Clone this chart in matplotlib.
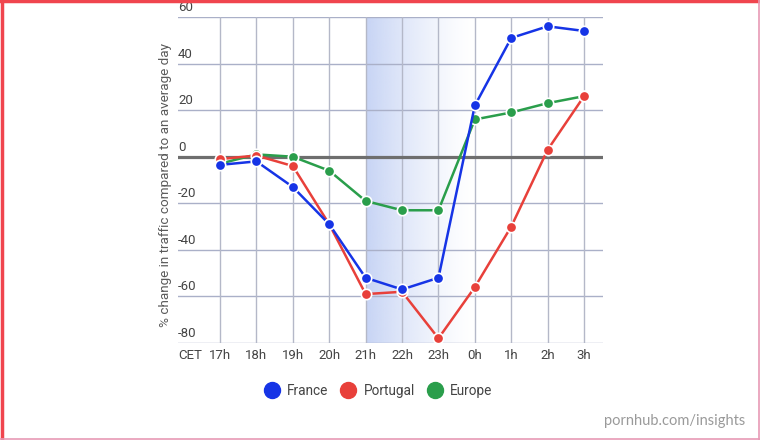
import numpy as np
import matplotlib
matplotlib.use("Agg")
import matplotlib.pyplot as plt
from matplotlib.lines import Line2D
import matplotlib.transforms as mtransforms

hours = ["17h", "18h", "19h", "20h", "21h", "22h", "23h", "0h", "1h", "2h", "3h"]
france = [-3.5, -2, -13, -29, -52, -57, -52, 22, 51, 56, 54]
portugal = [-1, 0.5, -4, -29, -59, -58, -78, -56, -30, 3, 26]
europe = [-3, 1, 0, -6, -19, -23, -23, 16, 19, 23, 26]
yticks = [-80, -60, -40, -20, 0, 20, 40, 60]
series_names = ["France", "Portugal", "Europe"]
colors = ["#1634e6", "#e8403a", "#2a9e4b"]

plt.rcParams['font.family'] = ['Roboto', 'DejaVu Sans']

fig = plt.figure(figsize=(7.6, 4.4), dpi=100)
W, H = 760, 440
ax = fig.add_axes([178 / W, 1 - 343 / H, (603 - 178) / W, (343 - 17) / H])

x = np.arange(len(hours))
ax.set_xlim(-1.154, 10.52)
ax.set_ylim(-80, 60)

# shaded gradient 21h -> 0h
n = 256
grad = np.zeros((1, n, 4))
base = matplotlib.colors.to_rgb("#c3d1f4")
grad[..., 0] = base[0]
grad[..., 1] = base[1]
grad[..., 2] = base[2]
grad[..., 3] = np.linspace(0.95, 0.0, n) ** 1.4
ax.imshow(grad, extent=[4, 7, -80, 60], aspect='auto', zorder=0, interpolation='bilinear')

# gridlines
for yv in yticks:
    if yv == 0:
        continue
    ax.axhline(yv, color="#aab0c8", lw=1.0, zorder=1)
for xi in x:
    ax.axvline(xi, color="#b4b8c8", lw=1.0, zorder=1)
ax.axhline(0, color="#6e6e6e", lw=2.3, zorder=2)

order = [(series_names[2], europe, colors[2]), (series_names[1], portugal, colors[1]), (series_names[0], france, colors[0])]
for name, vals, c in order:
    ax.plot(x, vals, color=c, lw=1.8, marker='o', markersize=7.5, markerfacecolor=c,
            markeredgecolor='white', markeredgewidth=1.2, zorder=4, solid_capstyle='round')

for s in ax.spines.values():
    s.set_visible(False)
ax.set_xticks([])
ax.set_yticks([])

# y tick labels above gridlines
trans = mtransforms.blended_transform_factory(ax.transAxes, ax.transData)
for yv in yticks:
    ax.text(0.0, yv + 1.3, f"{yv}", transform=trans, ha='left', va='bottom',
            fontsize=9.5, color="#444444")

# x labels
for xi, lab in zip(x, hours):
    ax.text(xi, -82.5, lab, ha='center', va='top', fontsize=9.5, color="#444444", clip_on=False)
ax.text(0.0, -82.5, "CET", transform=trans, ha='left', va='top', fontsize=9.5, color="#444444", clip_on=False)

fig.text(165 / W, 1 - 185 / H, "% change in traffic compared to an average day", rotation=90,
         ha='center', va='center', fontsize=9.7, color="#5a5a5a")

handles = [Line2D([], [], linestyle='none', marker='o', markersize=11.5, color=c, markeredgecolor=c)
           for c in colors]
fig.legend(handles, series_names, loc='center', bbox_to_anchor=(378 / W, 1 - 391 / H), ncol=3,
           frameon=False, fontsize=9.8, labelcolor="#444444", handletextpad=0.5, columnspacing=0.9,
           handlelength=1.2)

fig.text(745 / W, 1 - 421 / H, "pornhub.com/insights", ha='right', va='center', fontsize=10.5,
         color="#9a9a9a", family=['Lato', 'DejaVu Sans'])

# border
fig.add_artist(Line2D([0, 1], [1 - 1 / H, 1 - 1 / H], transform=fig.transFigure, color="#f0454e", lw=2.5))
fig.add_artist(Line2D([1.5 / W, 1.5 / W], [0, 1], transform=fig.transFigure, color="#f0454e", lw=2.5))
fig.add_artist(Line2D([1 - 1 / W, 1 - 1 / W], [0, 1], transform=fig.transFigure, color="#e79ab5", lw=1.2))
fig.add_artist(Line2D([0, 1], [1 / H, 1 / H], transform=fig.transFigure, color="#e79ab5", lw=1.2))

fig.savefig("out.png", dpi=100)
